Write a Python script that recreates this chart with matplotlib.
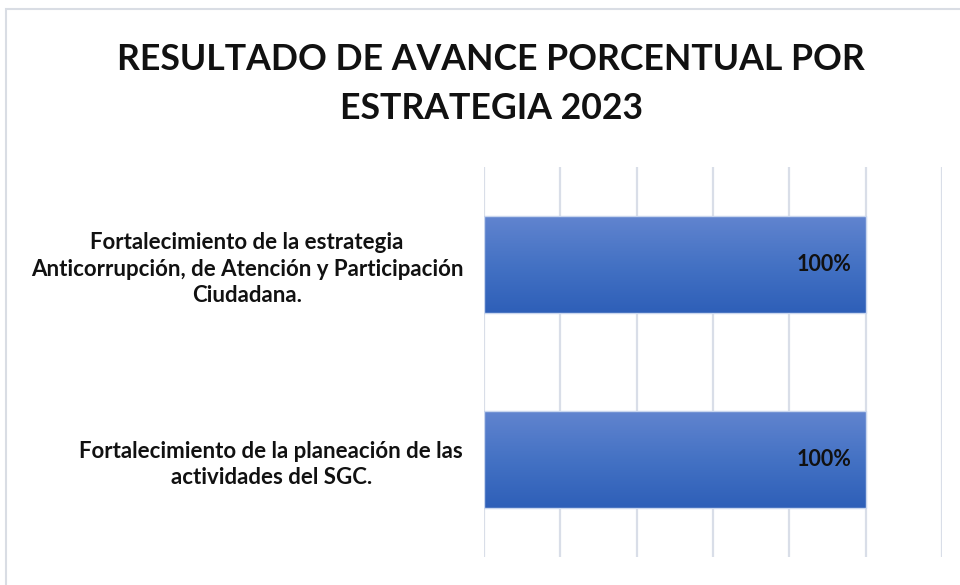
import matplotlib
matplotlib.use("Agg")
import matplotlib.pyplot as plt
import numpy as np
from matplotlib.patches import Rectangle
from matplotlib.colors import LinearSegmentedColormap

plt.rcParams['font.family'] = ['Lato', 'DejaVu Sans']

categories = [
    "Fortalecimiento de la estrategia\nAnticorrupción, de Atención y Participación\nCiudadana.",
    "Fortalecimiento de la planeación de las\nactividades del SGC.",
]
values = [100, 100]
x_ticks = [0, 20, 40, 60, 80, 100, 120]
title = "RESULTADO DE AVANCE PORCENTUAL POR\nESTRATEGIA 2023"

W, H = 960, 585
fig = plt.figure(figsize=(W / 100, H / 100), dpi=100)

# chart frame
fig.patches.append(Rectangle((6 / W, -0.05), 1.1, 1 - 9 / H + 0.05,
                             transform=fig.transFigure, fill=False,
                             edgecolor='#d9dde4', linewidth=1.5))

ax = fig.add_axes([484 / W, 1 - 557 / H, (942 - 484) / W, (557 - 167) / H])
ax.set_xticks(x_ticks)
ax.xaxis.grid(True, color='#d9dee8', linewidth=1.6)
ax.set_axisbelow(True)
ax.tick_params(axis='x', length=0, labelbottom=False)
ax.tick_params(axis='y', length=0)
for s in ax.spines.values():
    s.set_visible(False)

ypos = np.arange(len(categories))
ax.set_yticks(ypos)
ax.set_yticklabels(categories, fontsize=16, fontweight='bold',
                   multialignment='center', color='#111111', linespacing=1.32)
ax.tick_params(axis='y', pad=15)

cmap = LinearSegmentedColormap.from_list('bar', ['#6184cf', '#4472c4', '#2e5fb8'])
grad = np.linspace(0, 1, 256).reshape(-1, 1)
bars = ax.barh(ypos, values, height=0.495, color='none', edgecolor='#c9d6ee', linewidth=1.0, zorder=3)
for b, v in zip(bars, values):
    x0, y0 = b.get_x(), b.get_y()
    w, h = b.get_width(), b.get_height()
    im = ax.imshow(grad, cmap=cmap, aspect='auto', extent=[x0, x0 + w, y0 + h, y0],
                   zorder=2, interpolation='bilinear')
    clip = Rectangle((x0, y0), w, h, transform=ax.transData)
    im.set_clip_path(clip)
    ax.text(v - 3.8, b.get_y() + h / 2, f"{v}%", ha='right', va='center',
            fontsize=15.5, fontweight='bold', color='#111111', zorder=4)

ax.set_xlim(0, 120)
ax.set_ylim(1.5, -0.5)

fig.text(491 / W, 1 - 84 / H, title, ha='center', va='center', fontsize=25.7,
         fontweight='bold', color='#111111', linespacing=1.56)

fig.savefig('out.png', dpi=100, facecolor='white')
